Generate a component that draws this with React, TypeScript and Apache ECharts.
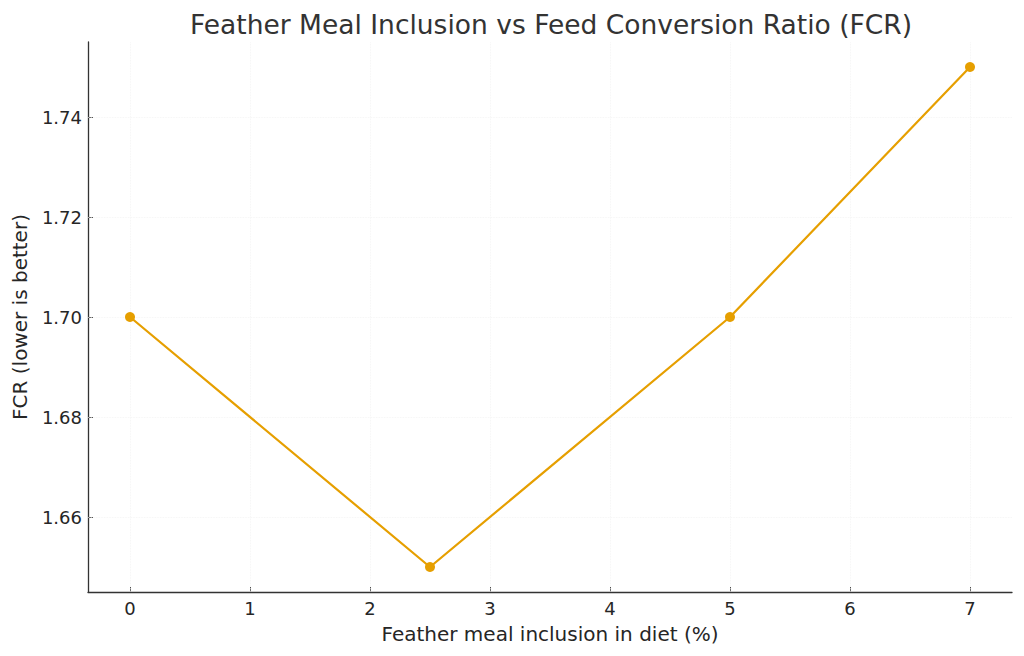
import React, { useEffect, useRef } from "react";
import * as echarts from "echarts";

const TITLE = "Feather Meal Inclusion vs Feed Conversion Ratio (FCR)";
const X_NAME = "Feather meal inclusion in diet (%)";
const Y_NAME = "FCR (lower is better)";
const inclusion = [0, 2.5, 5, 7];
const fcr = [1.7, 1.65, 1.7, 1.75];
const xTicks = [0, 1, 2, 3, 4, 5, 6, 7];
const yTicks = [1.66, 1.68, 1.7, 1.72, 1.74];

const FONT = "DejaVu Sans";

export default function App() {
  const ref = useRef<HTMLDivElement>(null);
  useEffect(() => {
    document.body.style.margin = "0";
    const chart = echarts.init(ref.current!, null, { renderer: "svg" });
    const gridLine = { color: "#f3f3f3", width: 0.8, type: "dotted" as const };
    chart.setOption({
      animation: false,
      backgroundColor: "#ffffff",
      title: {
        text: TITLE,
        left: 546,
        textAlign: "center",
        top: 6,
        textStyle: { fontFamily: FONT, fontSize: 26.5, fontWeight: "normal", color: "#333333" },
      },
      grid: { left: 88, right: 12, top: 42, bottom: 64 },
      xAxis: {
        type: "value",
        min: -0.35,
        max: 7.35,
        name: X_NAME,
        nameLocation: "middle",
        nameGap: 32,
        nameTextStyle: { fontFamily: FONT, fontSize: 20, color: "#262626" },
        axisLine: { show: true, onZero: false, lineStyle: { color: "#333333", width: 1.3 } },
        axisTick: { show: true, inside: true, length: 5, customValues: xTicks, lineStyle: { color: "#333333" } },
        axisLabel: {
          customValues: xTicks,
          fontFamily: FONT,
          fontSize: 18,
          color: "#262626",
          margin: 7,
        },
        splitLine: { show: false },
      },
      yAxis: {
        type: "value",
        min: 1.645,
        max: 1.755,
        name: Y_NAME,
        nameLocation: "middle",
        nameGap: 58,
        nameTextStyle: { fontFamily: FONT, fontSize: 20, color: "#262626" },
        axisLine: { show: true, onZero: false, lineStyle: { color: "#333333", width: 1.3 } },
        axisTick: { show: true, inside: true, length: 5, customValues: yTicks, lineStyle: { color: "#333333" } },
        axisLabel: {
          customValues: yTicks,
          fontFamily: FONT,
          fontSize: 18,
          color: "#262626",
          margin: 6,
          formatter: (v: number) => v.toFixed(2),
        },
        splitLine: { show: false },
      },
      series: [
        {
          type: "line",
          data: inclusion.map((x, i) => [x, fcr[i]]),
          symbol: "circle",
          symbolSize: 10,
          lineStyle: { color: "#E69F00", width: 2.2 },
          itemStyle: { color: "#E69F00" },
          z: 5,
          markLine: {
            silent: true,
            symbol: "none",
            label: { show: false },
            lineStyle: gridLine,
            z: 1,
            data: [
              ...xTicks.map((t) => ({ xAxis: t })),
              ...yTicks.map((t) => ({ yAxis: t })),
            ],
          },
        },
      ],
    });
    return () => chart.dispose();
  }, []);
  return (
    <div
      ref={ref}
      style={{ position: "fixed", left: 0, top: 0, width: 1024, height: 656 }}
    />
  );
}
